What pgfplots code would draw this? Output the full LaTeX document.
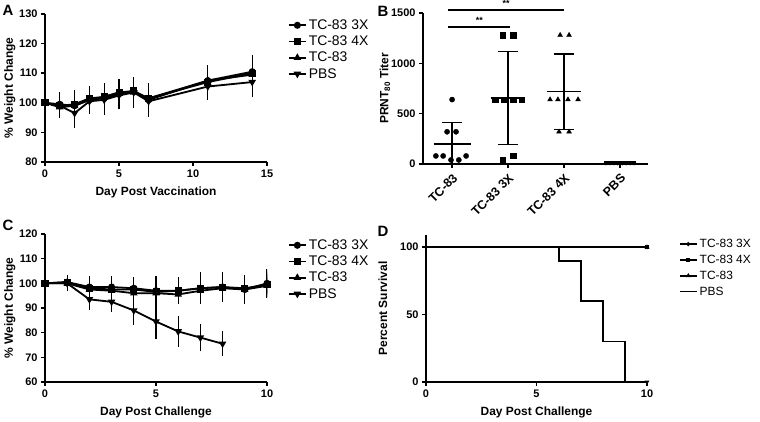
\documentclass[border=0pt]{standalone}
\usepackage{fontspec}
\setmainfont{Liberation Sans}
\usepackage{pgfplots}
\pgfplotsset{compat=1.18}

\pgfplotsset{
  prism/.style={
    scale only axis, anchor=south west,
    axis x line*=bottom, axis y line*=left,
    axis line style={-, line width=1.8bp},
    tick align=outside, major tick length=4bp,
    tick style={line width=1.5bp, black},
    /pgf/number format/assume math mode=true,
    /pgf/number format/set thousands separator={},
    tick label style={font=\bfseries\fontsize{11}{12}\selectfont},
    label style={font=\bfseries\fontsize{12}{14}\selectfont},
    xlabel style={at={(axis description cs:0.5,-0.205)}, anchor=center},
    legend style={draw=none, fill=none, anchor=north west,
      font=\fontsize{14}{16}\selectfont, row sep=1bp},
    legend cell align=left,
  },
  ser/.style={black, line width=1.8bp, mark size=2.6bp,
    mark options={solid, fill=black},
    error bars/y dir=both, error bars/y explicit,
    error bars/error bar style={line width=1.2bp},
    error bars/error mark options={line width=1.2bp, mark size=3.5bp}},
  seg/.style={black, line width=1.5bp, forget plot},
}

\begin{document}
\begin{tikzpicture}
\path[use as bounding box] (0,0) rectangle (760bp,422bp);

% panel letters
\node[font=\bfseries\fontsize{15}{16}\selectfont] at (8bp,412bp) {A};
\node[font=\bfseries\fontsize{15}{16}\selectfont] at (383bp,411bp) {B};
\node[font=\bfseries\fontsize{15}{16}\selectfont] at (8bp,197bp) {C};
\node[font=\bfseries\fontsize{15}{16}\selectfont] at (383bp,191bp) {D};

% ---------------- A: weight after vaccination ----------------
\begin{axis}[prism, at={(45bp,260bp)}, width=222bp, height=148bp,
  xmin=0, xmax=15, ymin=80, ymax=130,
  xtick={0,5,10,15}, ytick={80,90,100,110,120,130},
  xlabel={Day Post Vaccination}, ylabel={\% Weight Change},
  ylabel style={at={(axis description cs:-0.158,0.5)}, anchor=center},
  legend style={at={(1.08,0.99)}}]
\addplot[ser, mark=*] table[x=d, y=v, y error=e] {
d v e
0 100 0
1 99.5 3
2 99 4
3 101 3
4 101.5 4
5 103 3.5
6 104 3.5
7 101 4
11 107.5 4
14 110.5 4.5
};
\addlegendentry{TC-83 3X}
\addplot[ser, mark=square*] table[x=d, y=v, y error=e] {
d v e
0 100 0
1 99 3
2 99.5 3.5
3 101.5 3
4 102 3.5
5 103.5 3.5
6 104 3.5
7 101.5 4
11 107 4.5
14 110 5
};
\addlegendentry{TC-83 4X}
\addplot[ser, mark=triangle*] table[x=d, y=v, y error=e] {
d v e
0 100 0
1 98.5 2
2 99 4
3 101 3
4 102 3.5
5 103.5 3
6 103.5 4
7 101.5 4
11 107.5 3.5
14 109.5 4.5
};
\addlegendentry{TC-83}
\addplot[ser, mark=triangle*, mark options={rotate=180}] table[x=d, y=v, y error=e] {
d v e
0 100 0
1 99 2.5
2 96.5 4
3 100.5 3
4 101 4
5 102.5 3.5
6 103.5 4
7 100.5 4
11 105.5 3.5
14 107 4
};
\addlegendentry{PBS}
\end{axis}

% ---------------- B: PRNT80 titers ----------------
\begin{axis}[prism, at={(423bp,258bp)}, width=225bp, height=151bp,
  xmin=-0.52, xmax=3.5, ymin=0, ymax=1500,
  xtick={0,1,2,3}, xticklabels={TC-83, TC-83 3X, TC-83 4X, PBS},
  ytick={0,500,1000,1500},
  xticklabel style={rotate=45, anchor=north east, font=\bfseries\fontsize{12.5}{13}\selectfont},
  ylabel={PRNT\textsubscript{80} Titer},
  ylabel style={at={(axis description cs:-0.169,0.5)}, anchor=center},
  clip=false]
\addplot[only marks, mark=*, mark size=2.6bp, black] coordinates {
  (0,640) (-0.09,320) (0.07,320) (-0.29,80) (-0.16,80) (0.25,80) (-0.02,40) (0.12,40)};
\addplot[only marks, mark=square*, mark size=2.6bp, black] coordinates {
  (0.91,1280) (1.09,1280) (0.77,640) (0.93,640) (1.09,640) (1.25,640) (0.91,40) (1.09,80)};
\addplot[only marks, mark=triangle*, mark size=2.8bp, black] coordinates {
  (1.93,1280) (2.09,1280) (1.75,640) (1.89,640) (2.07,640) (2.25,640) (1.91,320) (2.09,320)};
\addplot[only marks, mark=triangle*, mark size=2.2bp, black, mark options={rotate=180}] coordinates {
  (2.75,10) (2.82,10) (2.89,10) (2.96,10) (3.04,10) (3.11,10) (3.18,10) (3.25,10)};
% mean +/- SD
\addplot[seg] coordinates {(-0.33,200) (0.33,200)};
\addplot[seg] coordinates {(0,0) (0,413)};
\addplot[seg] coordinates {(-0.18,413) (0.18,413)};
\addplot[seg] coordinates {(0.69,655) (1.31,655)};
\addplot[seg] coordinates {(1,193) (1,1117)};
\addplot[seg] coordinates {(0.82,1117) (1.18,1117)};
\addplot[seg] coordinates {(0.82,193) (1.18,193)};
\addplot[seg] coordinates {(1.69,720) (2.31,720)};
\addplot[seg] coordinates {(2,345) (2,1095)};
\addplot[seg] coordinates {(1.82,1095) (2.18,1095)};
\addplot[seg] coordinates {(1.82,345) (2.18,345)};
\addplot[seg] coordinates {(2.72,18) (3.28,18)};
% significance
\draw[line width=1.5bp] (axis cs:-0.07,1361) -- (axis cs:1.04,1361)
  node[midway, above=-1bp, font=\bfseries\fontsize{9}{9}\selectfont] {**};
\draw[line width=1.5bp] (axis cs:-0.07,1530) -- (axis cs:2,1530)
  node[midway, above=-1bp, font=\bfseries\fontsize{9}{9}\selectfont] {**};
\end{axis}

% ---------------- C: weight after challenge ----------------
\begin{axis}[prism, at={(45bp,40bp)}, width=222bp, height=148bp,
  xmin=0, xmax=10, ymin=60, ymax=120,
  xtick={0,5,10}, ytick={60,70,80,90,100,110,120},
  xlabel={Day Post Challenge}, ylabel={\% Weight Change},
  ylabel style={at={(axis description cs:-0.158,0.5)}, anchor=center},
  legend style={at={(1.08,0.99)}}]
\addplot[ser, mark=*] table[x=d, y=v, y error=e] {
d v e
0 100 0
1 100.5 1.5
2 98.5 3
3 98.5 3
4 98 3
5 97 4.5
6 97 4
7 98 5
8 98.5 4.5
9 97.5 4.5
10 100 4.5
};
\addlegendentry{TC-83 3X}
\addplot[ser, mark=square*] table[x=d, y=v, y error=e] {
d v e
0 100 0
1 100.5 1.5
2 98 3
3 97.5 3
4 97.5 3
5 96.5 4
6 97 4
7 98 3.5
8 98.5 3.5
9 98 3.5
10 99.5 3
};
\addlegendentry{TC-83 4X}
\addplot[ser, mark=triangle*] table[x=d, y=v, y error=e] {
d v e
0 100 0
1 100 1.5
2 97.5 2.5
3 97 3
4 96 3
5 96 3
6 95.5 2
7 97 3
8 98 3
9 97.5 3
10 99 3
};
\addlegendentry{TC-83}
\addplot[ser, mark=triangle*, mark options={rotate=180}] table[x=d, y=v, y error=e] {
d v e
0 100 0
1 100 1
2 93.5 2.7
3 92.5 2.5
4 89 4.3
5 84.5 5.5
6 80.5 4.7
7 78 4.2
8 75.5 3.6
};
\addlegendentry{PBS}
\end{axis}

% ---------------- D: survival ----------------
\begin{axis}[prism, at={(426bp,40bp)}, width=221bp, height=147bp,
  xmin=0, xmax=10, ymin=0, ymax=109,
  xtick={0,5,10}, ytick={0,50,100},
  xlabel={Day Post Challenge}, ylabel={Percent Survival},
  ylabel style={at={(axis description cs:-0.195,0.5)}, anchor=center},
  legend image code/.code={\draw[#1, mark repeat=2, mark phase=2]
    plot coordinates {(0cm,0cm) (0.3cm,0cm) (0.6cm,0cm)};},
  legend style={at={(1.13,1.0)}, font=\fontsize{12}{15}\selectfont, row sep=2bp}]
\addplot[black, line width=1.8bp, const plot, mark=*, mark size=1bp, mark indices={2}] coordinates {(0,100) (10,100)};
\addlegendentry{TC-83 3X}
\addplot[black, line width=1.8bp, const plot, mark=square*, mark size=1bp, mark indices={2}] coordinates {(0,100) (10,100)};
\addlegendentry{TC-83 4X}
\addplot[black, line width=1.8bp, const plot, mark=triangle*, mark size=1bp, mark indices={2}] coordinates {(0,100) (10,100)};
\addlegendentry{TC-83}
\addplot[black, line width=1.8bp, const plot, mark=triangle*, mark size=1bp, mark options={rotate=180}, mark indices={6}] coordinates {(0,100) (6,90) (7,60) (8,30) (9,0) (10,0)};
\addlegendentry{PBS}
\end{axis}
\end{tikzpicture}
\end{document}
